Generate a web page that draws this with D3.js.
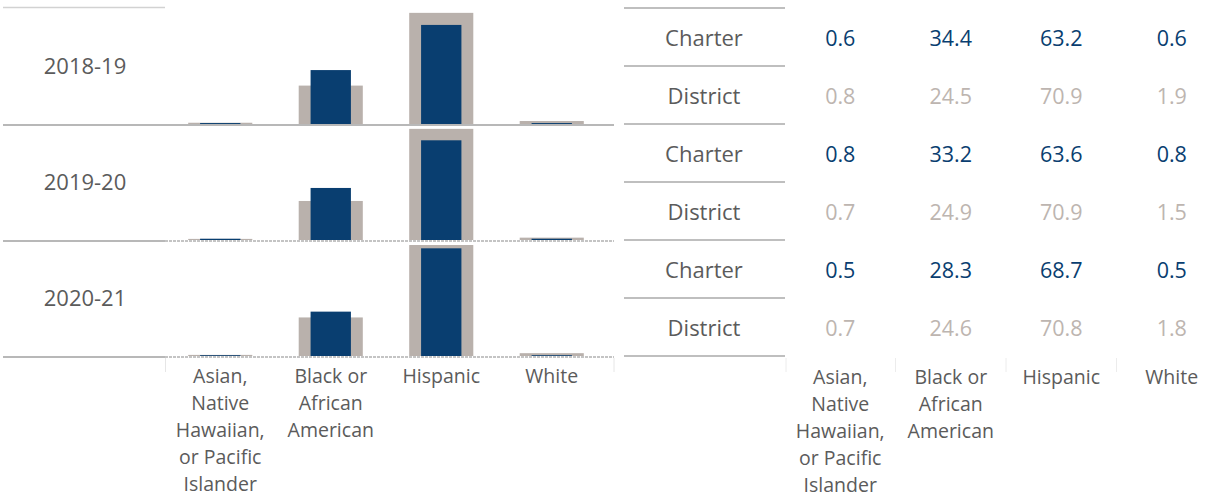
<!DOCTYPE html>
<html>
<head>
<meta charset="utf-8">
<script src="https://cdn.jsdelivr.net/npm/d3@7"></script>
<style>
  html, body { margin: 0; padding: 0; background: #ffffff; }
  svg { display: block; font-family: "Open Sans", "Noto Sans", sans-serif; }
</style>
</head>
<body>
<svg id="chart" width="1225" height="497"></svg>
<script>
// ---------- data ----------
const categories = ["Asian, Native Hawaiian, or Pacific Islander", "Black or African American", "Hispanic", "White"];
const categoryLines = [
  ["Asian,", "Native", "Hawaiian,", "or Pacific", "Islander"],
  ["Black or", "African", "American"],
  ["Hispanic"],
  ["White"]
];
const years = ["2018-19", "2019-20", "2020-21"];
const sectors = ["Charter", "District"];
const charterValues = [
  [0.6, 34.4, 63.2, 0.6],
  [0.8, 33.2, 63.6, 0.8],
  [0.5, 28.3, 68.7, 0.5]
];
const districtValues = [
  [0.8, 24.5, 70.9, 1.9],
  [0.7, 24.9, 70.9, 1.5],
  [0.7, 24.6, 70.8, 1.8]
];

// ---------- styles ----------
const NAVY = "#093e70";
const TAUPE = "#b9b1ac";
const TAUPE_TEXT = "#bdb5b0";
const LABEL = "#5b5b5b";
const RULE = "#bfbfbf";

const svg = d3.select("#chart");

// ---------- scales ----------
const row = d3.scaleBand().domain(years).range([8, 356]).padding(0);
const x = d3.scaleBand().domain(categories).range([165, 607]).padding(0);
const xTable = d3.scaleBand().domain(categories).range([785, 1227]).padding(0);
const y = d3.scaleLinear().domain([0, 74]).range([row.bandwidth(), 0]);
const subRow = d3.scaleBand().domain(sectors).range([0, row.bandwidth()]);

const districtW = x.bandwidth() * 0.58;
const charterW = x.bandwidth() * 0.365;

// ---------- left: bar panels ----------
const left = svg.append("g");

// top rule over year label column
left.append("line")
  .attr("x1", 3).attr("x2", 165)
  .attr("y1", row(years[0]) - 0.5).attr("y2", row(years[0]) - 0.5)
  .attr("stroke", "#d2d2d2").attr("stroke-width", 1.5);

years.forEach((yr, i) => {
  const g = left.append("g").attr("transform", `translate(0,${row(yr)})`);

  // year label
  g.append("text")
    .attr("x", 85).attr("y", row.bandwidth() / 2)
    .attr("dy", "0.35em")
    .attr("text-anchor", "middle")
    .attr("fill", LABEL)
    .style("font-size", "22px")
    .text(yr);

  // district (wide, taupe)
  g.selectAll("rect.district")
    .data(districtValues[i])
    .join("rect")
    .attr("class", "district")
    .attr("x", (d, j) => x(categories[j]) + (x.bandwidth() - districtW) / 2)
    .attr("width", districtW)
    .attr("y", d => y(d))
    .attr("height", d => y(0) - y(d))
    .attr("fill", TAUPE);

  // charter (narrow, navy)
  g.selectAll("rect.charter")
    .data(charterValues[i])
    .join("rect")
    .attr("class", "charter")
    .attr("x", (d, j) => x(categories[j]) + (x.bandwidth() - charterW) / 2)
    .attr("width", charterW)
    .attr("y", d => y(d))
    .attr("height", d => y(0) - y(d))
    .attr("fill", NAVY);

  // baseline: solid under label column
  g.append("line")
    .attr("x1", 3).attr("x2", 165)
    .attr("y1", y(0) + 1).attr("y2", y(0) + 1)
    .attr("stroke", "#b8b8b8").attr("stroke-width", 2);
  // baseline under bars
  g.append("line")
    .attr("x1", 165).attr("x2", 614)
    .attr("y1", y(0) + 1).attr("y2", y(0) + 1)
    .attr("stroke", i === 0 ? "#b8b8b8" : "#c4c4c4")
    .attr("stroke-width", 2)
    .attr("stroke-dasharray", i === 0 ? null : "3,1");
});

// faint verticals below the panels
[165.5, 614].forEach(xx => {
  left.append("line")
    .attr("x1", xx).attr("x2", xx)
    .attr("y1", 358).attr("y2", 372)
    .attr("stroke", "#e6e6e6").attr("stroke-width", 1);
});

// category axis labels
function drawCatLabels(scale, y0) {
  const gl = svg.append("g");
  categories.forEach((c, j) => {
    const t = gl.append("text")
      .attr("text-anchor", "middle")
      .attr("fill", LABEL)
      .style("font-size", "19.5px");
    categoryLines[j].forEach((ln, k) => {
      t.append("tspan")
        .attr("x", scale(c) + scale.bandwidth() / 2)
        .attr("y", y0 + k * 27)
        .attr("dy", "0.35em")
        .text(ln);
    });
  });
}
drawCatLabels(x, 376);

// ---------- right: table ----------
const table = svg.append("g");

years.forEach((yr, i) => {
  sectors.forEach((s, k) => {
    const top = row(yr) + subRow(s);
    table.append("line")
      .attr("x1", 624).attr("x2", 785)
      .attr("y1", top).attr("y2", top)
      .attr("stroke", RULE).attr("stroke-width", 2);

    const cy = top + subRow.bandwidth() / 2 + 1;
    table.append("text")
      .attr("x", 704).attr("y", cy).attr("dy", "0.35em")
      .attr("text-anchor", "middle")
      .attr("fill", LABEL)
      .style("font-size", "22px")
      .text(s);

    const vals = s === "Charter" ? charterValues[i] : districtValues[i];
    table.selectAll(null)
      .data(vals)
      .join("text")
      .attr("x", (d, j) => xTable(categories[j]) + xTable.bandwidth() / 2)
      .attr("y", cy).attr("dy", "0.35em")
      .attr("text-anchor", "middle")
      .attr("fill", s === "Charter" ? NAVY : TAUPE_TEXT)
      .style("font-size", "21.5px")
      .text(d => d3.format(".1f")(d));
  });
});
// closing rule
table.append("line")
  .attr("x1", 624).attr("x2", 785)
  .attr("y1", row.range()[1]).attr("y2", row.range()[1])
  .attr("stroke", RULE).attr("stroke-width", 2);

// faint column ticks below table
[786, ...categories.slice(1).map(c => xTable(c)), 1226].forEach(xx => {
  table.append("line")
    .attr("x1", xx).attr("x2", xx)
    .attr("y1", 358).attr("y2", 372)
    .attr("stroke", "#ececec").attr("stroke-width", 1);
});

drawCatLabels(xTable, 377);
</script>
</body>
</html>
